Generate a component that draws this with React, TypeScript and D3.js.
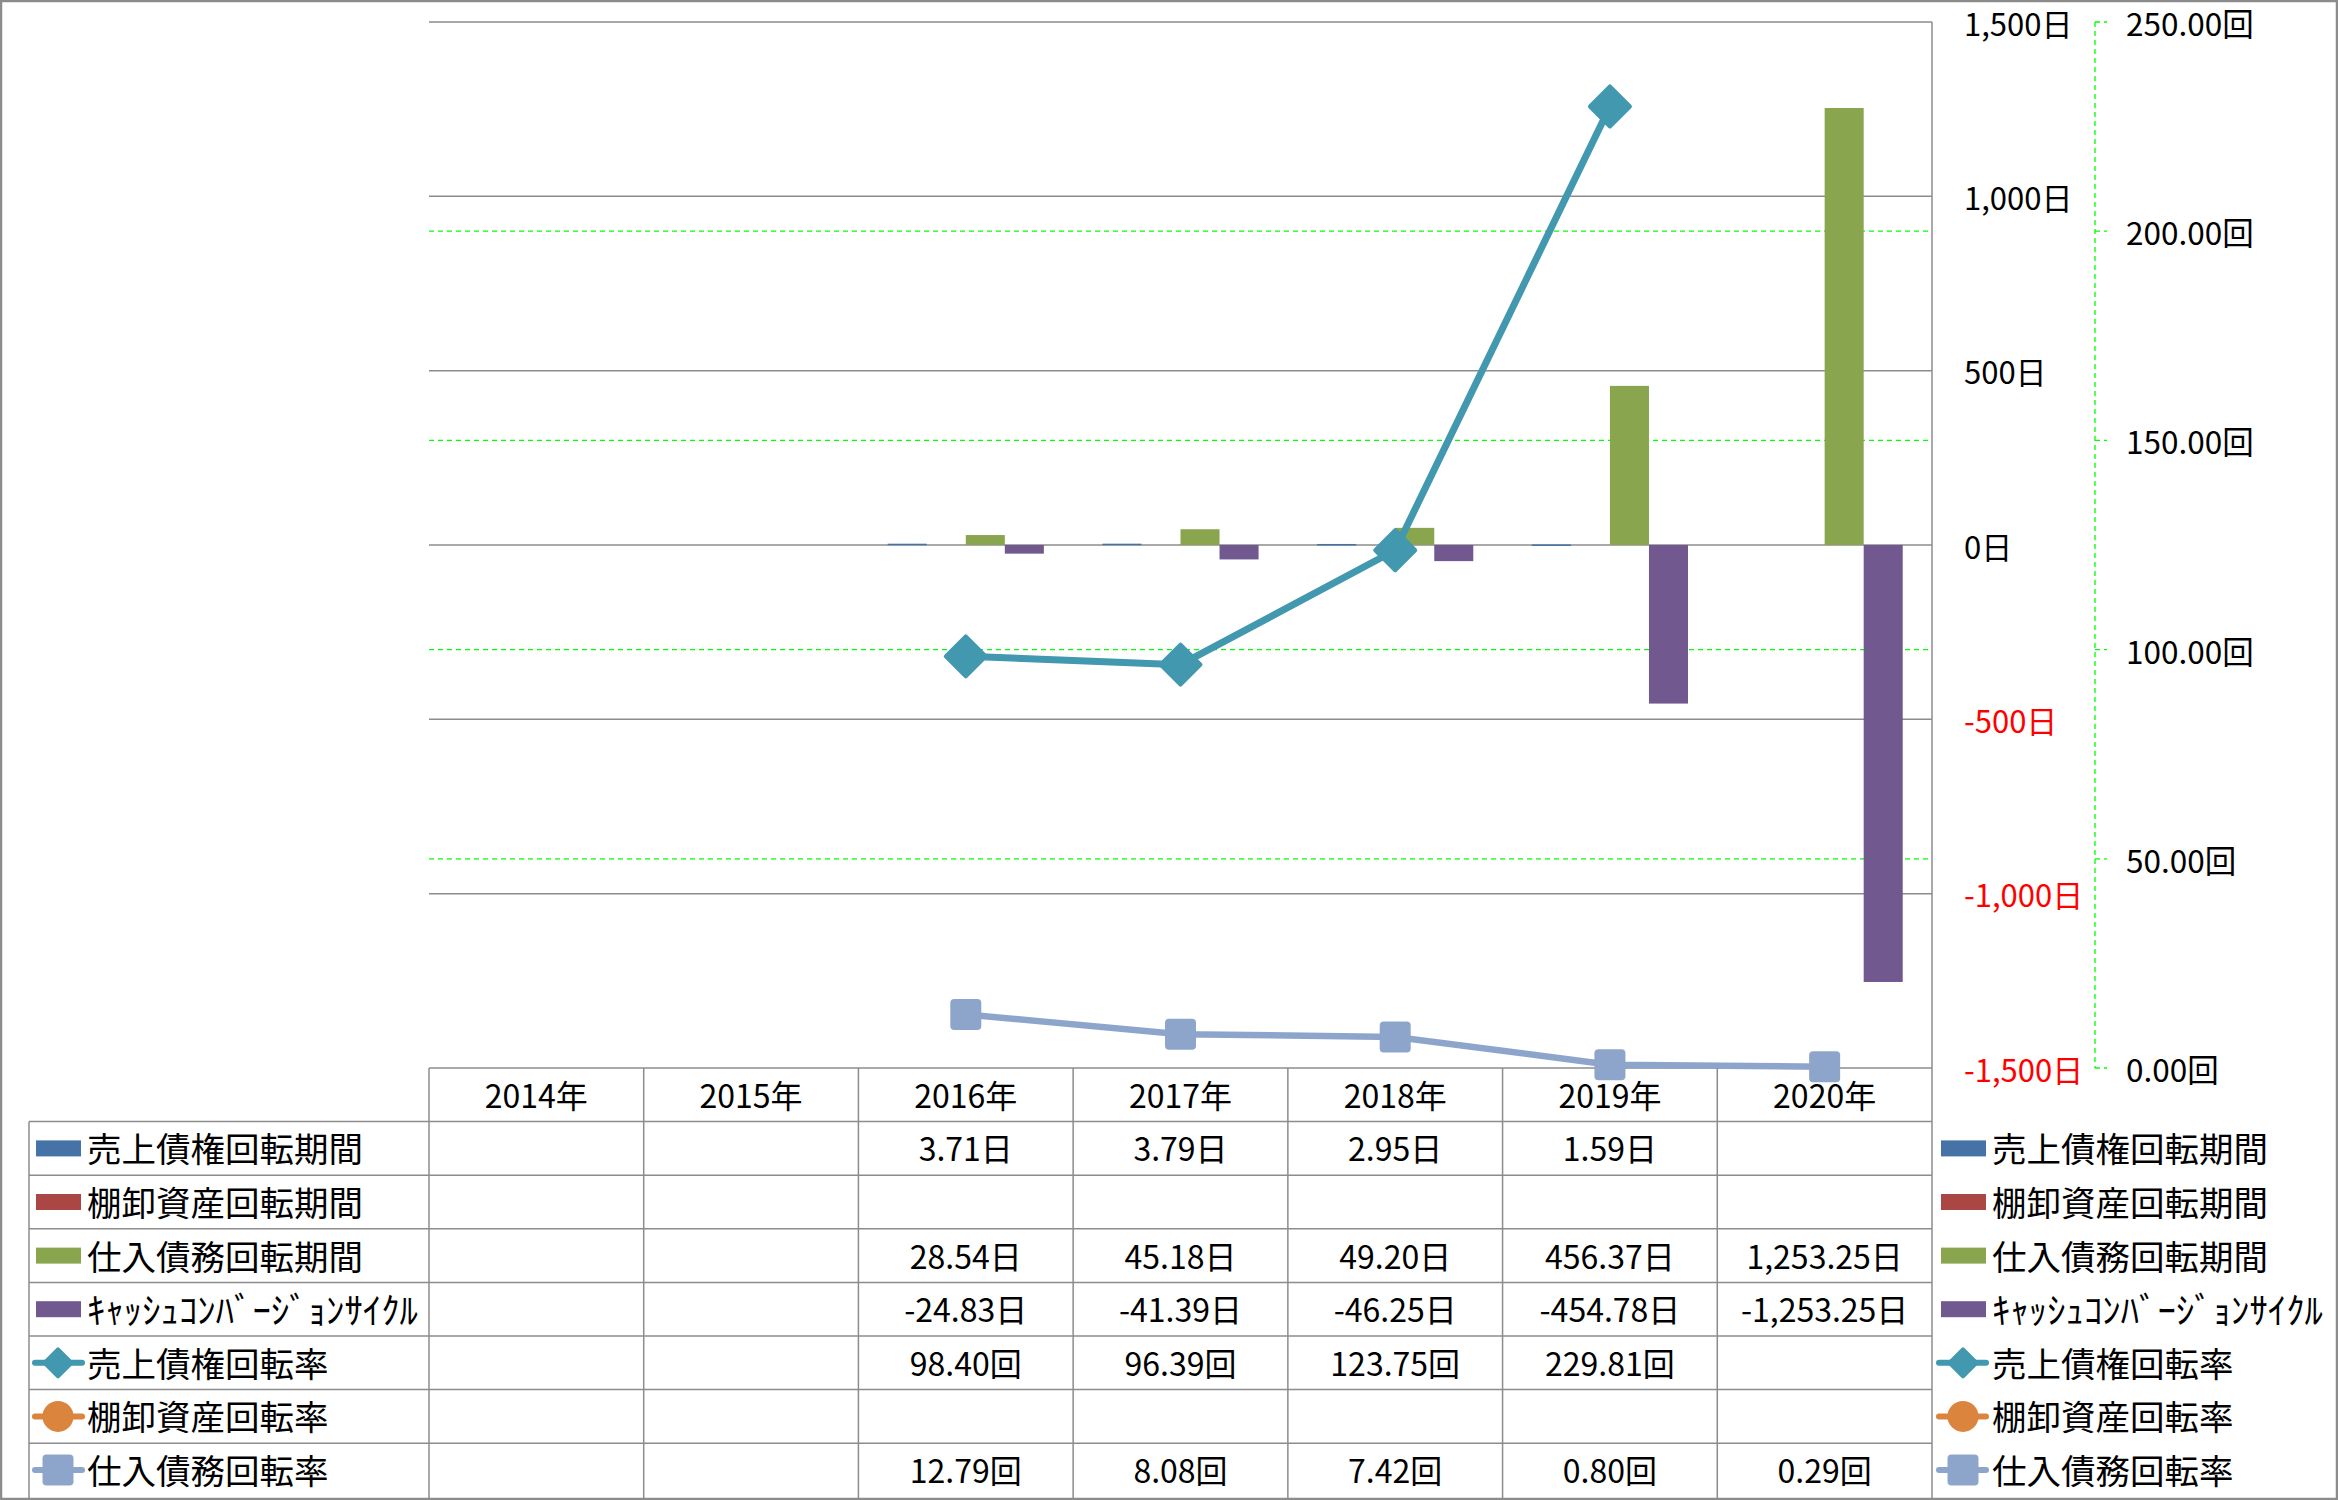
import React from "react";
import * as d3 from "d3";

const categories = ["2014年", "2015年", "2016年", "2017年", "2018年", "2019年", "2020年"];

const arDays: (number | null)[] = [null, null, 3.71, 3.79, 2.95, 1.59, null];
const invDays: (number | null)[] = [null, null, null, null, null, null, null];
const apDays: (number | null)[] = [null, null, 28.54, 45.18, 49.2, 456.37, 1253.25];
const cccDays: (number | null)[] = [null, null, -24.83, -41.39, -46.25, -454.78, -1253.25];

const arTurn: (number | null)[] = [null, null, 98.4, 96.39, 123.75, 229.81, null];
const invTurn: (number | null)[] = [null, null, null, null, null, null, null];
const apTurn: (number | null)[] = [null, null, 12.79, 8.08, 7.42, 0.8, 0.29];

const leftTicks = [-1500, -1000, -500, 0, 500, 1000, 1500];
const rightTicks = [0, 50, 100, 150, 200, 250];

const barSeries = [
  { name: "売上債権回転期間", values: arDays, color: "#4572A7" },
  { name: "棚卸資産回転期間", values: invDays, color: "#AA4643" },
  { name: "仕入債務回転期間", values: apDays, color: "#89A54E" },
  { name: "ｷｬｯｼｭｺﾝﾊﾞｰｼﾞｮﾝｻｲｸﾙ", values: cccDays, color: "#71588F" },
];
const lineSeries = [
  { name: "売上債権回転率", values: arTurn, color: "#4198AF", marker: "diamond" },
  { name: "棚卸資産回転率", values: invTurn, color: "#DB843D", marker: "circle" },
  { name: "仕入債務回転率", values: apTurn, color: "#8EA5CB", marker: "square" },
];

const W = 2338;
const H = 1500;
const PL = 429;
const PR = 1932;
const PT = 22;
const PB = 1068;
const ROWH = 53.6;
const FONT = "'Noto Sans CJK JP', 'Noto Sans', sans-serif";
const GRID = "#8c8c8c";

const locale = d3.formatLocale({ decimal: ".", thousands: ",", grouping: [3], currency: ["", ""], minus: "-" });
const f2 = locale.format(",.2f");
const f0 = locale.format(",");
const fmtDays = (v: number) => f2(v) + "日";
const fmtTurn = (v: number) => f2(v) + "回";

function Marker({ type, x, y, color, size }: { type: string; x: number; y: number; color: string; size: number }) {
  if (type === "diamond") {
    const h = size / 2 - 2;
    return (
      <path
        d={`M${x},${y - h}L${x + h},${y}L${x},${y + h}L${x - h},${y}Z`}
        fill={color}
        stroke={color}
        strokeWidth={4}
        strokeLinejoin="round"
      />
    );
  }
  if (type === "circle") {
    return <circle cx={x} cy={y} r={size / 2} fill={color} />;
  }
  const h = size / 2;
  return <rect x={x - h} y={y - h} width={size} height={size} rx={4} fill={color} />;
}

export default function App() {
  const x = d3.scaleBand<string>().domain(categories).range([PL, PR]).padding(0);
  const bw = x.bandwidth();
  const xs = d3
    .scaleBand<string>()
    .domain(barSeries.map((s) => s.name))
    .range([0, bw])
    .paddingInner(0)
    .paddingOuter(0.75);
  const yL = d3.scaleLinear().domain([-1500, 1500]).range([PB, PT]);
  const yR = d3.scaleLinear().domain([0, 250]).range([PB, PT]);

  const lineGen = d3
    .line<{ i: number; v: number | null }>()
    .defined((d) => d.v !== null)
    .x((d) => (x(categories[d.i]) as number) + bw / 2)
    .y((d) => yR(d.v as number));

  const allRows = [
    ...barSeries.map((s) => ({ ...s, kind: "bar", fmt: fmtDays, marker: "" })),
    ...lineSeries.map((s) => ({ ...s, kind: "line", fmt: fmtTurn })),
  ];

  const axisX = 2095;
  const isHalfWidth = (s: string) => /^[\uFF61-\uFF9F]+$/.test(s);

  return (
    <svg
      width={W}
      height={H}
      style={{ position: "absolute", left: 0, top: 0, display: "block", background: "#fff" }}
      fontFamily={FONT}
    >
      <rect x={1} y={1} width={W - 2} height={H - 2} fill="#fff" stroke="#8c8c8c" strokeWidth={2.5} />

      {rightTicks.map((t) =>
        t === 0 || t === 250 ? null : (
          <line key={"g" + t} x1={PL} x2={PR} y1={yR(t)} y2={yR(t)} stroke="#00ff00" strokeWidth={1.3} strokeDasharray="5,4" />
        )
      )}
      {leftTicks.map((t) => (
        <line key={"p" + t} x1={PL} x2={PR} y1={yL(t)} y2={yL(t)} stroke={GRID} strokeWidth={1.5} />
      ))}
      <line x1={PR} x2={PR} y1={PT} y2={H} stroke={GRID} strokeWidth={1.5} />

      {barSeries.map((s) =>
        s.values.map((v, i) => {
          if (v === null) return null;
          const x0 = (x(categories[i]) as number) + (xs(s.name) as number);
          const y0 = yL(Math.max(0, v));
          const y1 = yL(Math.min(0, v));
          return <rect key={s.name + i} x={x0} y={y0} width={xs.bandwidth()} height={Math.max(1.5, y1 - y0)} fill={s.color} />;
        })
      )}

      {lineSeries.map((s) => {
        const pts = s.values.map((v, i) => ({ i, v }));
        const w = s.marker === "diamond" ? 7 : 6.5;
        const size = s.marker === "diamond" ? 44 : 31;
        return (
          <g key={s.name}>
            <path d={lineGen(pts) || ""} fill="none" stroke={s.color} strokeWidth={w} strokeLinejoin="round" />
            {pts.map((p) =>
              p.v === null ? null : (
                <Marker
                  key={p.i}
                  type={s.marker}
                  x={(x(categories[p.i]) as number) + bw / 2}
                  y={yR(p.v)}
                  color={s.color}
                  size={size}
                />
              )
            )}
          </g>
        );
      })}

      {leftTicks.map((t) => (
        <text
          key={"lt" + t}
          x={1964}
          y={yL(t)}
          dominantBaseline="central"
          fontSize={31}
          fill={t < 0 ? "#ff0000" : "#000"}
        >
          {f0(t) + "日"}
        </text>
      ))}

      <line x1={axisX} x2={axisX} y1={PT} y2={PB} stroke="#00ff00" strokeWidth={1.3} strokeDasharray="5,4" />
      {rightTicks.map((t) => (
        <g key={"rt" + t}>
          <line x1={axisX} x2={axisX + 12} y1={yR(t)} y2={yR(t)} stroke="#00ff00" strokeWidth={1.3} strokeDasharray="5,4" />
          <text x={2126} y={yR(t)} dominantBaseline="central" fontSize={31.5} fill="#000">
            {fmtTurn(t)}
          </text>
        </g>
      ))}

      {categories.map((c) => {
        const cx = x(c) as number;
        return (
          <g key={"h" + c}>
            <line x1={cx} x2={cx} y1={PB} y2={H} stroke={GRID} strokeWidth={1.5} />
            <text x={cx + bw / 2} y={PB + ROWH / 2 - 1} textAnchor="middle" dominantBaseline="central" fontSize={32}>
              {c}
            </text>
          </g>
        );
      })}
      <line x1={29} x2={29} y1={PB + ROWH} y2={H} stroke={GRID} strokeWidth={1.5} />
      {allRows.map((r, ri) => {
        const top = PB + ROWH * (ri + 1);
        const cy = top + ROWH / 2;
        const half = isHalfWidth(r.name);
        return (
          <g key={"row" + ri}>
            <line x1={29} x2={PR} y1={top} y2={top} stroke={GRID} strokeWidth={1.5} />
            {r.kind === "bar" ? (
              <rect x={36} y={cy - 8} width={45} height={16} fill={r.color} />
            ) : (
              <g>
                <line x1={35} x2={82} y1={cy} y2={cy} stroke={r.color} strokeWidth={6} strokeLinecap="round" />
                <Marker type={r.marker} x={58} y={cy} color={r.color} size={31} />
              </g>
            )}
            <text
              x={87}
              y={cy - 1}
              dominantBaseline="central"
              fontSize={half ? 36 : 34.5}
              textLength={half ? 331 : undefined}
              lengthAdjust={half ? "spacingAndGlyphs" : undefined}
            >
              {r.name}
            </text>
            {r.values.map((v, i) =>
              v === null ? null : (
                <text
                  key={i}
                  x={(x(categories[i]) as number) + bw / 2}
                  y={cy - 1}
                  textAnchor="middle"
                  dominantBaseline="central"
                  fontSize={32}
                >
                  {r.fmt(v)}
                </text>
              )
            )}
            {r.kind === "bar" ? (
              <rect x={1941} y={cy - 8} width={45} height={16} fill={r.color} />
            ) : (
              <g>
                <line x1={1939} x2={1986} y1={cy} y2={cy} stroke={r.color} strokeWidth={6} strokeLinecap="round" />
                <Marker type={r.marker} x={1963} y={cy} color={r.color} size={31} />
              </g>
            )}
            <text
              x={1992}
              y={cy - 1}
              dominantBaseline="central"
              fontSize={half ? 36 : 34.5}
              textLength={half ? 331 : undefined}
              lengthAdjust={half ? "spacingAndGlyphs" : undefined}
            >
              {r.name}
            </text>
          </g>
        );
      })}
    </svg>
  );
}
